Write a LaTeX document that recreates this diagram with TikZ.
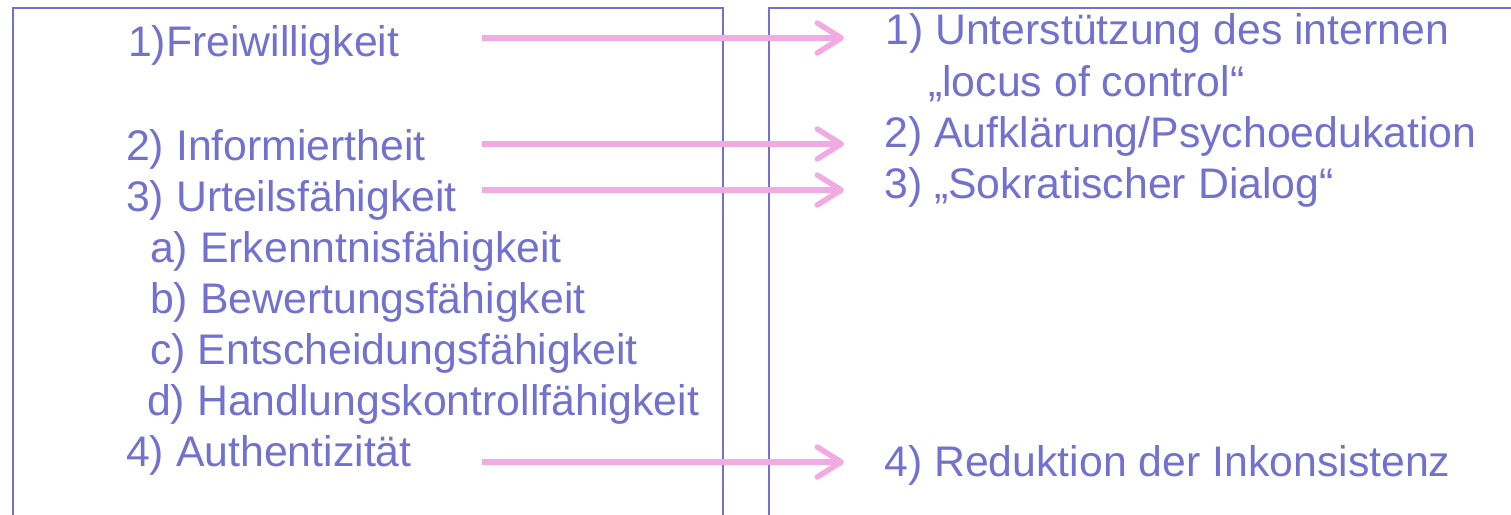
\documentclass[tikz,border=0pt]{standalone}
\usepackage{fontspec}
\setmainfont{Liberation Sans}
\usetikzlibrary{arrows.meta}
\definecolor{txtblue}{RGB}{114,114,206}
\definecolor{arrpink}{RGB}{241,170,226}
\tikzset{
  item/.style={anchor=base west, inner sep=0pt, text=txtblue, font=\fontsize{42.8}{50}\selectfont},
  frame/.style={draw=txtblue, line width=2pt},
  pinkarrow/.style={draw=arrpink, line width=5.5pt, -{Straight Barb[length=24pt,width=30pt,line cap=round,line join=round]}}
}
\begin{document}
\begin{tikzpicture}[x=1pt,y=-1pt]
\useasboundingbox (0,0) rectangle (1511,514);
\clip (0,0) rectangle (1511,514);
% frames
\draw[frame] (13,516) -- (13,8) -- (723,8) -- (723,516);
\draw[frame] (769,516) -- (769,8) -- (1515,8);
% left items
\node[item] (l1) at (128,56) {1)Freiwilligkeit};
\node[item] (l2) at (126,160) {2) Informiertheit};
\node[item] (l3) at (126,211) {3) Urteilsfähigkeit};
\node[item] (la) at (150,262) {a) Erkenntnisfähigkeit};
\node[item] (lb) at (150,313) {b) Bewertungsfähigkeit};
\node[item] (lc) at (150,364) {c) Entscheidungsfähigkeit};
\node[item] (ld) at (147,415) {d) Handlungskontrollfähigkeit};
\node[item] (l4) at (126,466) {4) Authentizität};
% right items
\node[item] (r1) at (885,44) {1) Unterstützung des internen};
\node[item] (r1b) at (928,96) {„locus of control“};
\node[item] (r2) at (884,147) {2) Aufklärung/Psychoedukation};
\node[item] (r3) at (884,198) {3) „Sokratischer Dialog“};
\node[item] (r4) at (884,476) {4) Reduktion der Inkonsistenz};
% arrow end points
\coordinate (s1) at (482,38);
\coordinate (e1) at (844,38);
\coordinate (s2) at (482,144);
\coordinate (e2) at (844,144);
\coordinate (s3) at (482,190);
\coordinate (e3) at (844,190);
\coordinate (s4) at (482,462);
\coordinate (e4) at (844,462);
\draw[pinkarrow] (s1) -- (e1);
\draw[pinkarrow] (s2) -- (e2);
\draw[pinkarrow] (s3) -- (e3);
\draw[pinkarrow] (s4) -- (e4);
\end{tikzpicture}
\end{document}
